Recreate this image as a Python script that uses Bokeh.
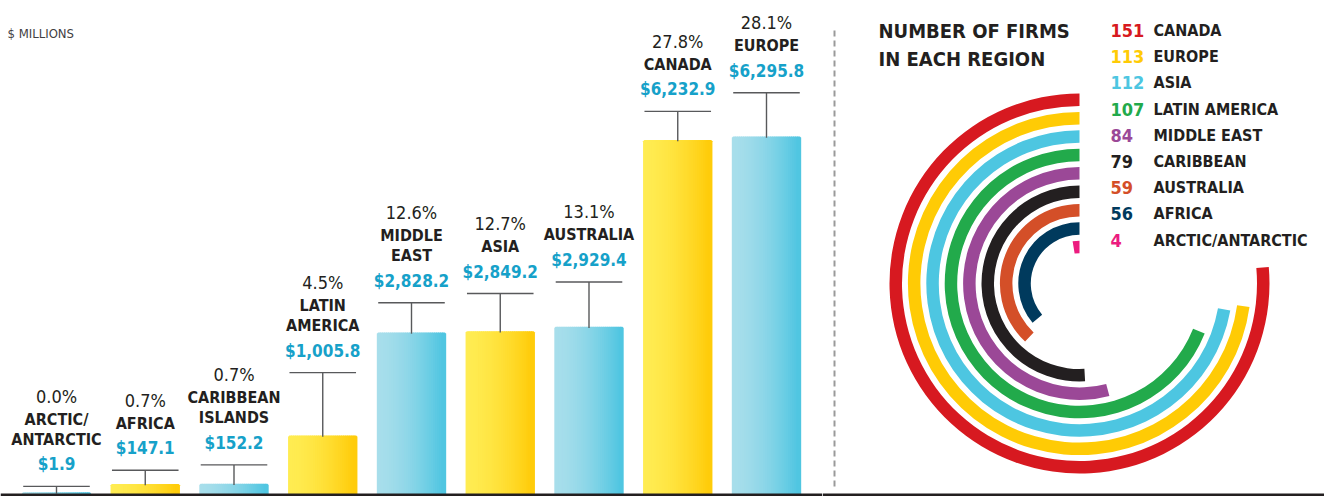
import numpy as np
from bokeh.plotting import figure
from bokeh.models import FactorRange, Range1d, BoxAnnotation, ColumnDataSource, Label
from bokeh.transform import dodge
from bokeh.layouts import row
from bokeh.embed import file_html
from bokeh.resources import INLINE
from bokeh.core.properties import value

# ---------------- data ----------------
regions = ["ARCTIC/ANTARCTIC", "AFRICA", "CARIBBEAN ISLANDS", "LATIN AMERICA",
           "MIDDLE EAST", "ASIA", "AUSTRALIA", "CANADA", "EUROPE"]
revenue = [1.9, 147.1, 152.2, 1005.8, 2828.2, 2849.2, 2929.4, 6232.9, 6295.8]

firm_regions = ["CANADA", "EUROPE", "ASIA", "LATIN AMERICA", "MIDDLE EAST",
                "CARIBBEAN", "AUSTRALIA", "AFRICA", "ARCTIC/ANTARCTIC"]
firm_counts = [151, 113, 112, 107, 84, 79, 59, 56, 4]

unit_label = "$ MILLIONS"
firms_title = ["NUMBER OF FIRMS", "IN EACH REGION"]

# ---------------- style / layout ----------------
FONT = "DejaVu Sans Condensed, Liberation Sans Narrow, Roboto Condensed, sans-serif"
INK = "#231f20"
VALUE_BLUE = "#16a1c9"
LEADER = "#58595b"
YELLOW_L, YELLOW_R = (255, 236, 82), (255, 203, 8)
BLUE_L, BLUE_R = (168, 222, 235), (78, 197, 225)
FIRM_COLORS = ["#d71920", "#ffcb05", "#4dc6e1", "#22aa4b", "#9b4897",
               "#231f20", "#d44f28", "#003a5d", "#ec1c7f"]

W_TOTAL = 1324
H = 496
LEFT_W = 822
RIGHT_W = W_TOTAL - LEFT_W
Y0, Y1 = -53.1, 8726.0
PX = H / (Y1 - Y0)          # pixels per $M
BAR_W = 0.75
N_SLICES = 32
LEADER_PX = [7, 15, 20, 64, 31, 39, 46, 30, 45]

DEG_PER_FIRM = 2.32
MAX_SWEEP = 275.0
CX, CY = 1079, H - 283
R0, PITCH, THICK = 190.0, 18.4, 12.5


def hexc(c):
    return "#%02x%02x%02x" % tuple(int(round(v)) for v in c)


def mix(a, b, t):
    return tuple(a[i] + (b[i] - a[i]) * t for i in range(3))


def wrap(name):
    return name.replace("/", "/ ").split()


# ---------------- left: bar chart ----------------
p = figure(width=LEFT_W, height=H,
           x_range=FactorRange(factors=regions, range_padding=0.131,
                               range_padding_units="absolute"),
           y_range=Range1d(Y0, Y1),
           output_backend="svg", toolbar_location=None,
           x_axis_location=None, y_axis_location=None,
           min_border=0, outline_line_color=None)
p.xgrid.grid_line_color = None
p.ygrid.grid_line_color = None

total = sum(revenue)
lead_top = [v + LEADER_PX[i] / PX for i, v in enumerate(revenue)]
data = dict(cat=regions, val=revenue, top=lead_top)
offsets = []
for k in range(N_SLICES):
    t = (k + 0.5) / N_SLICES
    ramp = t ** 1.6
    data[f"c{k}"] = [hexc(mix(BLUE_L, BLUE_R, ramp)) if i % 2 == 0
                     else hexc(mix(YELLOW_L, YELLOW_R, ramp))
                     for i in range(len(regions))]
    offsets.append(-BAR_W / 2 + t * BAR_W)
src = ColumnDataSource(data)

for k, off in enumerate(offsets):
    p.vbar(x=dodge("cat", off, range=p.x_range), top="val", bottom=0,
           width=BAR_W / N_SLICES * 1.15, fill_color=f"c{k}",
           line_color=f"c{k}", line_width=2.5, source=src)

p.segment(x0="cat", y0="val", x1="cat", y1="top", line_color=LEADER,
          line_width=1.4, source=src)
p.segment(x0=dodge("cat", -BAR_W / 2, range=p.x_range), y0="top",
          x1=dodge("cat", BAR_W / 2, range=p.x_range), y1="top",
          line_color=LEADER, line_width=1.4, source=src)

# labels (offsets in screen px above the leader's horizontal line)
b_x, b_y, b_txt, b_col, b_off, b_size = [], [], [], [], [], []
n_x, n_y, n_txt, n_off = [], [], [], []
for i, (name, v) in enumerate(zip(regions, revenue)):
    top = lead_top[i]
    b_x.append(name); b_y.append(top); b_txt.append(f"${v:,.1f}")
    b_col.append(VALUE_BLUE); b_off.append(-22); b_size.append("17px")
    lines = wrap(name)
    off = -47
    for ln in reversed(lines):
        b_x.append(name); b_y.append(top); b_txt.append(ln)
        b_col.append(INK); b_off.append(off); b_size.append("16px")
        off -= 20
    n_x.append(name); n_y.append(top); n_txt.append(f"{v / total * 100:.1f}%")
    n_off.append(off + 20 - 23)

bold_src = ColumnDataSource(dict(x=b_x, y=b_y, text=b_txt, color=b_col,
                                 off=b_off, size=b_size))
p.text(x="x", y="y", text="text", y_offset="off", text_color="color",
       text_font_size="size", text_font=value(FONT), text_font_style="bold",
       text_align="center", text_baseline="alphabetic", source=bold_src)
pct_src = ColumnDataSource(dict(x=n_x, y=n_y, text=n_txt, off=n_off))
p.text(x="x", y="y", text="text", y_offset="off", text_color=INK,
       text_font_size="18px", text_font=value(FONT), text_font_style="normal",
       text_align="center", text_baseline="alphabetic", source=pct_src)

p.add_layout(Label(x=7, x_units="screen", y=Y0 + (H - 33) / PX, y_units="data",
                   text=unit_label, text_font=FONT, text_font_size="13px",
                   text_color="#414042", text_baseline="alphabetic"))
p.add_layout(BoxAnnotation(bottom=Y0, top=0, fill_color=INK, fill_alpha=1,
                           line_color=None))

# ---------------- right: radial bars ----------------
r = figure(width=RIGHT_W, height=H, x_range=Range1d(LEFT_W, W_TOTAL),
           y_range=Range1d(0, H), output_backend="svg", toolbar_location=None,
           x_axis_location=None, y_axis_location=None,
           min_border=0, outline_line_color=None)
r.xgrid.grid_line_color = None
r.ygrid.grid_line_color = None

outer = [R0 - i * PITCH for i in range(len(firm_counts))]
inner = [o - THICK for o in outer]
start = [np.pi / 2] * len(firm_counts)
end = [np.pi / 2 + np.radians(min(c * DEG_PER_FIRM, MAX_SWEEP)) for c in firm_counts]
rad_src = ColumnDataSource(dict(x=[CX] * len(firm_counts), y=[CY] * len(firm_counts),
                                ir=inner, orr=outer, s=start, e=end,
                                color=FIRM_COLORS))
r.annular_wedge(x="x", y="y", inner_radius="ir", outer_radius="orr",
                start_angle="s", end_angle="e", direction="anticlock",
                fill_color="color", line_color=None, source=rad_src)

# divider
r.segment(x0=[834], y0=[H - 486], x1=[834], y1=[H - 28], line_color="#9a9a9a",
          line_width=2, line_dash="6 4")

# title
r.text(x=[878, 878], y=[H - 30, H - 58], text=firms_title, text_color=INK,
       text_font=value(FONT), text_font_style="bold", text_font_size="20px",
       text_baseline="alphabetic")

# legend
leg_y = [H - (30 + 26.2 * i) for i in range(len(firm_counts))]
leg_src = ColumnDataSource(dict(y=leg_y, n=[str(c) for c in firm_counts],
                                name=firm_regions, color=FIRM_COLORS))
r.text(x=1110, y="y", text="n", text_color="color", text_font=value(FONT),
       text_font_style="bold", text_font_size="18px", text_baseline="alphabetic",
       source=leg_src)
r.text(x=1153, y="y", text="name", text_color=INK, text_font=value(FONT),
       text_font_style="bold", text_font_size="16px", text_baseline="alphabetic",
       source=leg_src)

r.add_layout(BoxAnnotation(bottom=0, top=3, fill_color=INK, fill_alpha=1,
                           line_color=None))

layout = row(p, r, spacing=0)
open("out.html", "w").write(file_html(layout, INLINE))
